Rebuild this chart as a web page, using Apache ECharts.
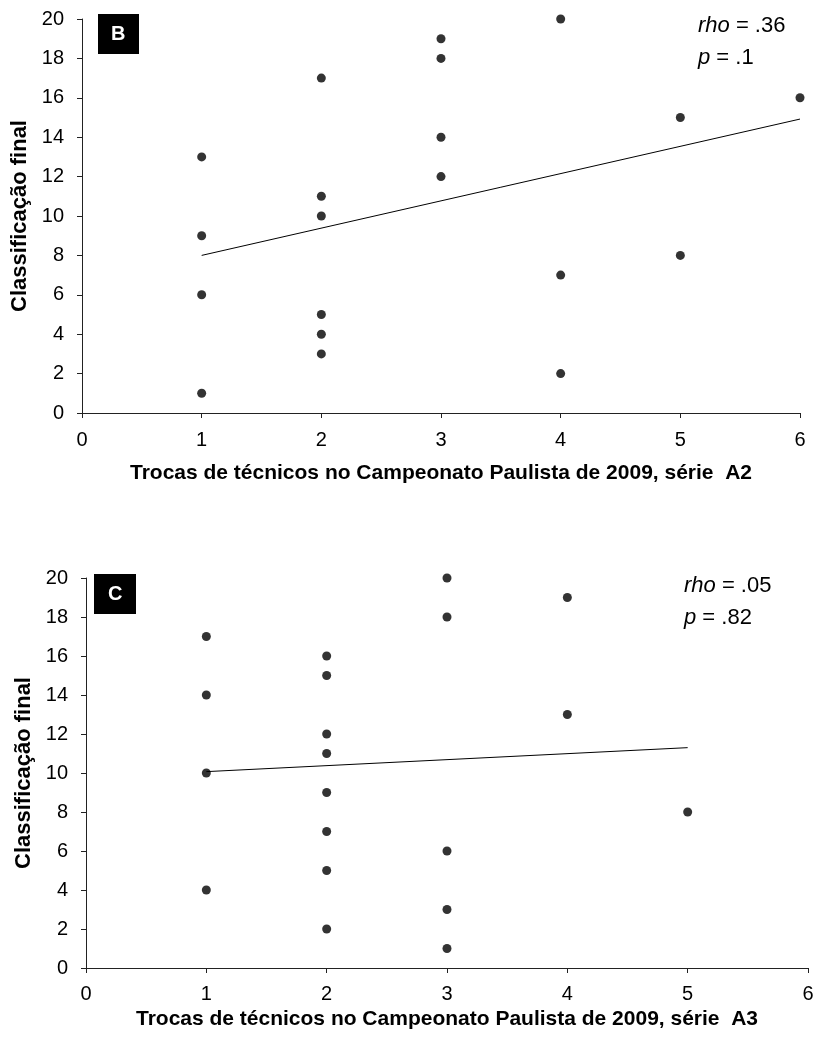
<!DOCTYPE html>
<html>
<head>
<meta charset="utf-8">
<script src="https://cdn.jsdelivr.net/npm/echarts@6/dist/echarts.min.js"></script>
<style>html,body{margin:0;padding:0;background:#fff}#c{width:817px;height:1040px}</style>
</head>
<body>
<div id="c"></div>
<script>
// Panel B (série A2)
const xTicksB = [0, 1, 2, 3, 4, 5, 6];
const yTicks = [0, 2, 4, 6, 8, 10, 12, 14, 16, 18, 20];
const trocasB = [1, 1, 1, 1, 2, 2, 2, 2, 2, 2, 3, 3, 3, 3, 4, 4, 4, 5, 5, 6];
const classB  = [13, 9, 6, 1, 17, 11, 10, 5, 4, 3, 19, 18, 14, 12, 20, 7, 2, 15, 8, 16];
const trendB = [[1, 8.0], [6, 14.92]];
const statsB = ['rho', '.36', 'p', '.1'];

// Panel C (série A3)
const trocasC = [1, 1, 1, 1, 2, 2, 2, 2, 2, 2, 2, 2, 3, 3, 3, 3, 3, 4, 4, 5];
const classC  = [17, 14, 10, 4, 16, 15, 12, 11, 9, 7, 5, 2, 20, 18, 6, 3, 1, 19, 13, 8];
const trendC = [[1, 10.07], [5, 11.3]];
const statsC = ['rho', '.05', 'p', '.82'];

const xNameB = 'Trocas de técnicos no Campeonato Paulista de 2009, série  A2';
const xNameC = 'Trocas de técnicos no Campeonato Paulista de 2009, série  A3';
const yName = 'Classificação final';

const FONT = 'Liberation Sans, Arial, sans-serif';
const zip = (a, b) => a.map((v, i) => [v, b[i]]);

function xAxis(grid, name, gap, lblMargin) {
  return {
    type: 'value', gridIndex: grid, min: 0, max: 6, interval: 1,
    name: name, nameLocation: 'middle', nameGap: gap,
    nameTextStyle: { fontFamily: FONT, fontSize: 21, fontWeight: 'bold', color: '#000' },
    axisLine: { show: true, onZero: false, lineStyle: { color: '#222', width: 1 } },
    axisTick: { show: true, length: 5, lineStyle: { color: '#222' } },
    axisLabel: { fontFamily: FONT, fontSize: 20, color: '#000', margin: lblMargin },
    splitLine: { show: false }
  };
}
function yAxis(grid, gap) {
  return {
    type: 'value', gridIndex: grid, min: 0, max: 20, interval: 2,
    name: yName, nameLocation: 'middle', nameGap: gap,
    nameTextStyle: { fontFamily: FONT, fontSize: 22, fontWeight: 'bold', color: '#000' },
    axisLine: { show: true, onZero: false, lineStyle: { color: '#222', width: 1 } },
    axisTick: { show: true, length: 5, lineStyle: { color: '#222' } },
    axisLabel: { fontFamily: FONT, fontSize: 20, color: '#000', margin: 18 },
    splitLine: { show: false }
  };
}
function stats(s) {
  return '{i|' + s[0] + '}{n| = ' + s[1] + '}\n{i|' + s[2] + '}{n| = ' + s[3] + '}';
}
const rich = {
  i: { fontFamily: FONT, fontSize: 22, fontStyle: 'italic', fontWeight: 'normal', color: '#000', lineHeight: 32 },
  n: { fontFamily: FONT, fontSize: 22, fontWeight: 'normal', color: '#000', lineHeight: 32 }
};

const chart = echarts.init(document.getElementById('c'), null, { renderer: 'canvas' });
chart.setOption({
  animation: false,
  backgroundColor: '#fff',
  grid: [
    { left: 82, top: 19, right: 17, height: 394 },
    { left: 86, top: 578, right: 9, height: 390 }
  ],
  xAxis: [xAxis(0, xNameB, 50, 17), xAxis(1, xNameC, 41, 16)],
  yAxis: [yAxis(0, 45), yAxis(1, 49)],
  title: [
    { text: stats(statsB), left: 698, top: 10, padding: 0, textStyle: { fontWeight: 'normal', rich: rich } },
    { text: stats(statsC), left: 684, top: 570, padding: 0, textStyle: { fontWeight: 'normal', rich: rich } }
  ],
  graphic: [
    { type: 'rect', left: 98, top: 14, shape: { width: 41, height: 40 }, style: { fill: '#000' } },
    { type: 'text', left: 111, top: 24, style: { text: 'B', fill: '#fff', font: 'bold 20px ' + FONT } },
    { type: 'rect', left: 94, top: 574, shape: { width: 42, height: 40 }, style: { fill: '#000' } },
    { type: 'text', left: 108, top: 584, style: { text: 'C', fill: '#fff', font: 'bold 20px ' + FONT } }
  ],
  series: [
    { type: 'scatter', xAxisIndex: 0, yAxisIndex: 0, data: zip(trocasB, classB), symbolSize: 9, itemStyle: { color: '#000' }, z: 3 },
    { type: 'line', xAxisIndex: 0, yAxisIndex: 0, data: trendB, showSymbol: false, lineStyle: { color: '#000', width: 1 }, z: 2 },
    { type: 'scatter', xAxisIndex: 1, yAxisIndex: 1, data: zip(trocasC, classC), symbolSize: 9, itemStyle: { color: '#000' }, z: 3 },
    { type: 'line', xAxisIndex: 1, yAxisIndex: 1, data: trendC, showSymbol: false, lineStyle: { color: '#000', width: 1 }, z: 2 }
  ]
});
</script>
</body>
</html>
